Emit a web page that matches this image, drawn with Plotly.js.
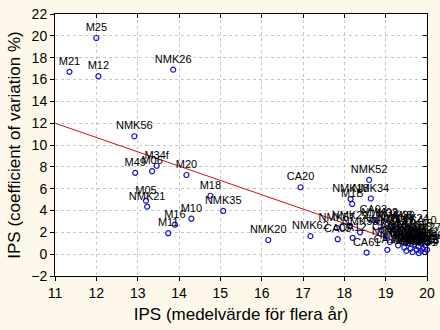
<!DOCTYPE html>
<html><head><meta charset="utf-8">
<script src="https://cdn.plot.ly/plotly-3.0.1.min.js"></script>
<style>html,body{margin:0;padding:0;background:#fdf8ea;}#c{width:440px;height:330px;}</style>
</head><body><div id="c"></div>
<script>
const labels = ["M25","M21","M12","NMK26","NMK56","M34f","M06","M49","M20","M05","NMK21","M18","NMK35","M10","M16","M11",
 "CA20","NMK20","NMK62","NMK52","NMK34","NMK18","M1B","CA03","NMK29","NMK59","NMK57","CA05","CA61","CA15","NMK48","CA12",
 "NMK02","NMK07","CA09","M33","NMK11","CA14","NMK44","M27","NMK40","CA17","NMK03","M31","NMK15","CA02","NMK38","M29",
 "NMK09","CA08","NMK22","NMK45","M37","CA11","NMK05","NMK31","CA16","NMK13","M22","NMK27","CA04","NMK46","CA07","NMK17",
 "M30","NMK24","CA10"];
const ipsMean = [12.0,11.35,12.05,13.86,12.92,13.46,13.35,12.94,14.18,13.2,13.23,14.76,15.07,14.3,13.9,13.74,
 16.94,16.16,17.18,18.6,18.64,18.15,18.19,18.7,18.14,18.38,17.82,17.84,18.54,19.04,19.2,18.2,
 18.85,18.9,19.0,19.05,19.1,19.2,19.25,19.3,19.3,19.35,19.4,19.45,19.5,19.5,19.55,19.6,
 19.6,19.65,19.7,19.7,19.75,19.75,19.8,19.8,19.85,19.85,19.9,19.9,19.95,19.95,20.0,20.0,
 19.45,19.6,19.9];
const ipsCv = [19.8,16.7,16.3,16.9,10.8,8.1,7.6,7.45,7.25,4.9,4.35,5.35,3.96,3.25,2.7,1.92,
 6.13,1.3,1.65,6.8,5.1,5.05,4.6,3.15,2.6,2.0,2.4,1.37,0.15,0.4,2.6,1.5,
 2.9,2.2,1.6,2.8,1.1,1.9,2.3,1.4,0.8,2.0,1.2,0.6,1.7,0.3,1.0,1.4,
 0.5,0.2,0.9,1.9,0.4,1.3,0.7,0.1,1.0,0.3,0.5,1.5,0.2,0.8,0.4,1.1,
 2.6,2.3,2.1];
const fitX = [11, 20];
const fitY = [12.0, 0.2];
const xTicks = [11,12,13,14,15,16,17,18,19,20];
const yTicks = [-2,0,2,4,6,8,10,12,14,16,18,20,22];

const fnt = {family:"Liberation Sans, Arial, sans-serif", color:"#000"};
const data = [
 {x: fitX, y: fitY, mode:"lines", line:{color:"#d01010", width:1}, hoverinfo:"skip"},
 {x: ipsMean, y: ipsCv, text: labels, mode:"markers+text", textposition:"top center",
  textfont:{...fnt, size:11}, cliponaxis:false,
  marker:{symbol:"circle-open", size:5, color:"#1414c8", line:{width:1.2, color:"#1414c8"}}},
 {x:[11], y:[22], xaxis:"x2", yaxis:"y2", mode:"markers", marker:{opacity:0}, hoverinfo:"skip"}
];
const axBase = {showline:true, linecolor:"#000", linewidth:1, zeroline:false, tickcolor:"#000"};
const layout = {
 width:440, height:330, showlegend:false,
 paper_bgcolor:"#fdf8ea", plot_bgcolor:"#ffffff",
 margin:{l:55, r:13, t:14, b:54},
 font:{...fnt, size:14},
 xaxis:{...axBase, range:[11,20], tickvals:xTicks, ticks:"outside", ticklen:4,
   showgrid:true, gridcolor:"#c8c8c8", griddash:"dot", gridwidth:1,
   tickfont:{...fnt, size:14},
   title:{text:"IPS (medelvärde för flera år)", font:{...fnt, size:17}, standoff:8}},
 yaxis:{...axBase, range:[-2,22], tickvals:yTicks, ticks:"outside", ticklen:4,
   showgrid:true, gridcolor:"#c8c8c8", griddash:"dot", gridwidth:1,
   tickfont:{...fnt, size:14},
   title:{text:"IPS (coefficient of variation %)", font:{...fnt, size:17}, standoff:6}},
 xaxis2:{...axBase, overlaying:"x", side:"top", range:[11,20], tickvals:xTicks, ticks:"inside", ticklen:4, showticklabels:false, showgrid:false},
 yaxis2:{...axBase, overlaying:"y", side:"right", range:[-2,22], tickvals:yTicks, ticks:"inside", ticklen:4, showticklabels:false, showgrid:false}
};
Plotly.newPlot("c", data, layout, {displayModeBar:false, staticPlot:true});
</script></body></html>
